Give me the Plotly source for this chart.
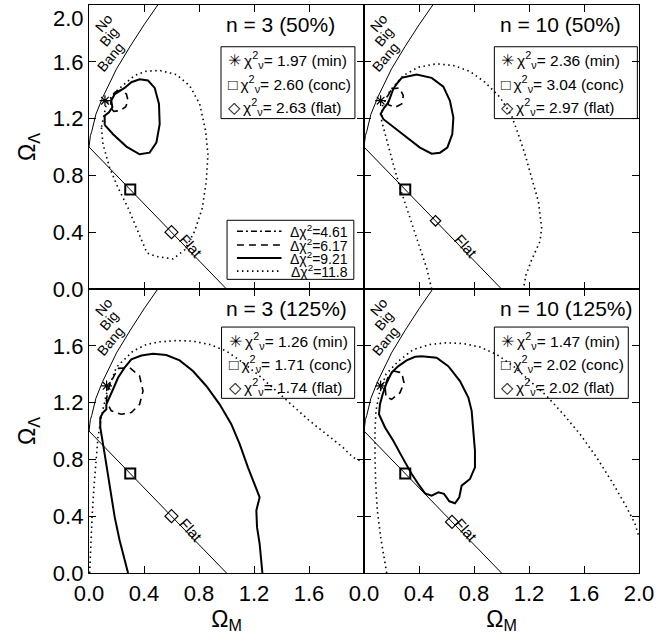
import plotly.graph_objects as go
from plotly.subplots import make_subplots

# ---------------- data ----------------
tick_vals = [0.0, 0.4, 0.8, 1.2, 1.6, 2.0]
tick_text = ["0.0", "0.4", "0.8", "1.2", "1.6", "2.0"]
tick_text_cut = ["0.0", "0.4", "0.8", "1.2", "1.6", ""]

panel_titles = ["n = 3 (50%)", "n = 10 (50%)", "n = 3 (125%)", "n = 10 (125%)"]
chi_min = ["1.97", "2.36", "1.26", "1.47"]
chi_conc = ["2.60", "3.04", "1.71", "2.02"]
chi_flat = ["2.63", "2.97", "1.74", "2.02"]
delta_chi2 = ["4.61", "6.17", "9.21", "11.8"]
nbb_words = ["No", "Big", "Bang"]

# "No Big Bang" boundary and flat-universe line
nbb_om = [0.0, 0.005, 0.01, 0.02, 0.05, 0.1, 0.2, 0.3, 0.4, 0.5]
nbb_ol = [1.0, 1.05, 1.08, 1.11, 1.23, 1.35, 1.55, 1.71, 1.86, 2.0]
flat_om = [0.0, 1.0]
flat_ol = [1.0, 0.0]

# best-fit markers per panel (TL, TR, BL, BR)
min_om = [0.116, 0.121, 0.128, 0.121]
min_ol = [1.326, 1.326, 1.318, 1.318]
conc_om = [0.30, 0.30, 0.30, 0.30]
conc_ol = [0.70, 0.70, 0.70, 0.70]
flatpt_om = [0.60, 0.52, 0.60, 0.64]
flatpt_ol = [0.40, 0.48, 0.40, 0.36]

# ---- top-left: n = 3 (50%)
tl_617_om = [0.187, 0.235, 0.272, 0.284, 0.267, 0.228, 0.179, 0.155, 0.162, 0.187]
tl_617_ol = [1.385, 1.402, 1.373, 1.326, 1.284, 1.256, 1.251, 1.284, 1.338, 1.385]
tl_921_om = [0.114, 0.175, 0.272, 0.368, 0.441, 0.490, 0.514, 0.509, 0.478, 0.429, 0.368,
             0.308, 0.259, 0.223, 0.187, 0.162, 0.170, 0.145, 0.114, 0.114]
tl_921_ol = [1.156, 1.090, 1.003, 0.949, 0.960, 1.031, 1.161, 1.303, 1.416, 1.468, 1.477,
             1.456, 1.416, 1.397, 1.373, 1.326, 1.279, 1.244, 1.220, 1.156]
tl_118_om = [0.090, 0.102, 0.150, 0.211, 0.284, 0.356, 0.422, 0.490, 0.611, 0.696, 0.768,
             0.824, 0.853, 0.865, 0.848, 0.805, 0.732, 0.635, 0.514, 0.417, 0.332, 0.259,
             0.187, 0.126, 0.090]
tl_118_ol = [1.137, 1.019, 0.854, 0.713, 0.571, 0.406, 0.253, 0.229, 0.212, 0.276, 0.406,
             0.571, 0.760, 0.949, 1.114, 1.303, 1.432, 1.510, 1.539, 1.534, 1.503, 1.444,
             1.385, 1.303, 1.137]

# ---- top-right: n = 10 (50%)
tr_617_om = [0.201, 0.257, 0.286, 0.274, 0.225, 0.177, 0.170, 0.201]
tr_617_ol = [1.409, 1.416, 1.362, 1.303, 1.279, 1.298, 1.355, 1.409]
tr_921_om = [0.274, 0.383, 0.492, 0.577, 0.625, 0.650, 0.642, 0.606, 0.553, 0.492, 0.407,
             0.310, 0.213, 0.141, 0.121, 0.145, 0.177, 0.194, 0.213, 0.238, 0.274]
tr_921_ol = [1.487, 1.510, 1.487, 1.425, 1.326, 1.208, 1.090, 0.996, 0.960, 0.953, 0.996,
             1.067, 1.137, 1.196, 1.232, 1.274, 1.314, 1.362, 1.409, 1.444, 1.487]
tr_118_om = [0.492, 0.456, 0.407, 0.359, 0.310, 0.262, 0.213, 0.165, 0.128, 0.135, 0.189,
             0.286, 0.395, 0.528, 0.650, 0.771, 0.880, 0.989, 1.074, 1.122, 1.171, 1.219,
             1.268, 1.292, 1.280, 1.219, 1.178, 1.159]
tr_118_ol = [0.000, 0.146, 0.288, 0.429, 0.571, 0.713, 0.878, 1.043, 1.185, 1.290, 1.397,
             1.503, 1.562, 1.586, 1.574, 1.532, 1.456, 1.350, 1.220, 1.090, 0.949, 0.783,
             0.618, 0.430, 0.335, 0.205, 0.099, 0.000]

# ---- bottom-left: n = 3 (125%)
bl_617_om = [0.211, 0.296, 0.368, 0.393, 0.368, 0.308, 0.235, 0.162, 0.126, 0.138, 0.175, 0.211]
bl_617_ol = [1.441, 1.446, 1.387, 1.282, 1.188, 1.130, 1.118, 1.142, 1.212, 1.294, 1.375, 1.441]
bl_921_om = [0.284, 0.259, 0.223, 0.187, 0.150, 0.114, 0.082, 0.082, 0.102, 0.126, 0.126,
             0.150, 0.175, 0.211, 0.259, 0.308, 0.381, 0.465, 0.562, 0.659, 0.756, 0.853,
             0.950, 1.035, 1.096, 1.156, 1.205, 1.241, 1.217, 1.222, 1.241, 1.261]
bl_921_ol = [0.000, 0.089, 0.229, 0.393, 0.603, 0.837, 1.025, 1.095, 1.130, 1.153, 1.188,
             1.235, 1.294, 1.375, 1.446, 1.504, 1.532, 1.544, 1.535, 1.497, 1.422, 1.317,
             1.188, 1.048, 0.908, 0.744, 0.627, 0.533, 0.440, 0.323, 0.206, 0.000]
bl_118_om = [0.005, 0.012, 0.022, 0.036, 0.053, 0.065, 0.090, 0.126, 0.200, 0.320, 0.417,
             0.514, 0.635, 0.756, 0.878, 0.999, 1.120, 1.241, 1.362, 1.484, 1.605, 1.726,
             1.847, 1.920, 2.000]
bl_118_ol = [0.000, 0.206, 0.393, 0.603, 0.814, 0.954, 1.100, 1.259, 1.450, 1.563, 1.609,
             1.628, 1.637, 1.633, 1.609, 1.563, 1.481, 1.387, 1.282, 1.177, 1.071, 0.978,
             0.884, 0.814, 0.779]

# ---- bottom-right: n = 10 (125%)
br_617_om = [0.213, 0.274, 0.291, 0.262, 0.201, 0.160, 0.153, 0.177, 0.213]
br_617_ol = [1.422, 1.411, 1.340, 1.270, 1.223, 1.240, 1.317, 1.387, 1.422]
br_921_om = [0.419, 0.528, 0.613, 0.698, 0.759, 0.783, 0.795, 0.807, 0.807, 0.771, 0.710,
             0.693, 0.662, 0.621, 0.582, 0.541, 0.492, 0.444, 0.395, 0.347, 0.286, 0.213,
             0.153, 0.109, 0.116, 0.136, 0.165, 0.201, 0.250, 0.310, 0.371, 0.419]
br_921_ol = [1.527, 1.516, 1.457, 1.352, 1.235, 1.142, 1.001, 0.861, 0.744, 0.662, 0.615,
             0.533, 0.491, 0.505, 0.557, 0.568, 0.545, 0.561, 0.627, 0.697, 0.802, 0.931,
             1.025, 1.118, 1.188, 1.259, 1.340, 1.411, 1.457, 1.497, 1.523, 1.527]
br_118_om = [0.165, 0.145, 0.121, 0.097, 0.085, 0.080, 0.080, 0.087, 0.110, 0.160, 0.250,
             0.359, 0.480, 0.601, 0.722, 0.844, 0.965, 1.086, 1.207, 1.328, 1.450, 1.571,
             1.692, 1.813, 1.910, 1.971, 2.000]
br_118_ol = [0.000, 0.112, 0.253, 0.440, 0.627, 0.814, 1.001, 1.142, 1.260, 1.400, 1.492,
             1.574, 1.609, 1.621, 1.616, 1.591, 1.539, 1.457, 1.352, 1.247, 1.118, 0.978,
             0.814, 0.627, 0.463, 0.346, 0.253]

panel_contours = [
    [(tl_617_om, tl_617_ol, "dash"), (tl_921_om, tl_921_ol, "solid"), (tl_118_om, tl_118_ol, "dot")],
    [(tr_617_om, tr_617_ol, "dash"), (tr_921_om, tr_921_ol, "solid"), (tr_118_om, tr_118_ol, "dot")],
    [(bl_617_om, bl_617_ol, "dash"), (bl_921_om, bl_921_ol, "solid"), (bl_118_om, bl_118_ol, "dot")],
    [(br_617_om, br_617_ol, "dash"), (br_921_om, br_921_ol, "solid"), (br_118_om, br_118_ol, "dot")],
]

# ---------------- styling / placement ----------------
FONT = "Liberation Sans, Arial, sans-serif"
DASHES = {"dashdot": "6px,3px,2px,3px", "dash": "7px,5px", "solid": "solid", "dot": "1.5px,3.5px"}
WIDTHS = {"dashdot": 1.5, "dash": 1.6, "solid": 2.0, "dot": 1.6}

fig = make_subplots(rows=2, cols=2, horizontal_spacing=0, vertical_spacing=0)
cells = [(1, 1), (1, 2), (2, 1), (2, 2)]
axref = [("x", "y"), ("x2", "y2"), ("x3", "y3"), ("x4", "y4")]
title_cx = [0.697, 0.716, 0.717, 0.737]
nbb_pos = [(0.108, 1.872), (0.142, 1.775), (0.155, 1.635)]

for i, (r, c) in enumerate(cells):
    fig.add_trace(go.Scatter(x=nbb_om, y=nbb_ol, mode="lines", line=dict(color="black", width=1),
                             showlegend=False, hoverinfo="skip"), row=r, col=c)
    fig.add_trace(go.Scatter(x=flat_om, y=flat_ol, mode="lines", line=dict(color="black", width=1),
                             showlegend=False, hoverinfo="skip"), row=r, col=c)
    for om, ol, sty in panel_contours[i]:
        fig.add_trace(go.Scatter(x=om, y=ol, mode="lines",
                                 line=dict(color="black", width=WIDTHS[sty], dash=DASHES[sty]),
                                 showlegend=False, hoverinfo="skip"), row=r, col=c)
    fig.add_trace(go.Scatter(x=[min_om[i]], y=[min_ol[i]], mode="markers",
                             marker=dict(symbol="asterisk-open", size=9, color="black",
                                         line=dict(color="black", width=1.2)),
                             showlegend=False), row=r, col=c)
    fig.add_trace(go.Scatter(x=[conc_om[i]], y=[conc_ol[i]], mode="markers",
                             marker=dict(symbol="square-open", size=10, color="black",
                                         line=dict(color="black", width=2)),
                             showlegend=False), row=r, col=c)
    fig.add_trace(go.Scatter(x=[flatpt_om[i]], y=[flatpt_ol[i]], mode="markers",
                             marker=dict(symbol="diamond-open", size=10 if i != 1 else 8, color="black",
                                         line=dict(color="black", width=1.2)),
                             showlegend=False), row=r, col=c)

    xr, yr = axref[i]
    for word, (wx, wy) in zip(nbb_words, nbb_pos):
        fig.add_annotation(x=wx, y=wy, xref=xr, yref=yr, text=word, showarrow=False,
                           textangle=-50, font=dict(family=FONT, size=14, color="black"))
    fig.add_annotation(x=0.745, y=0.30, xref=xr, yref=yr, text="Flat", showarrow=False,
                       textangle=48, font=dict(family=FONT, size=15, color="black"))
    fig.add_annotation(x=title_cx[i], y=0.93, xref=xr + " domain", yref=yr + " domain",
                       text=panel_titles[i], showarrow=False, xanchor="center", yanchor="middle",
                       font=dict(family=FONT, size=21, color="black"))

# chi^2 boxes
box_x = [(0.480, 0.967), (0.474, 0.994), (0.482, 0.966), (0.474, 0.961)]
box_y = [(0.600, 0.853), (0.600, 0.853), (0.615, 0.866), (0.615, 0.866)]
for i in range(4):
    xr, yr = axref[i]
    x0, x1 = box_x[i]
    y0, y1 = box_y[i]
    fig.add_shape(type="rect", xref=xr + " domain", yref=yr + " domain", x0=x0, x1=x1, y0=y0, y1=y1,
                  line=dict(color="black", width=1))
    rows = [("\u2733\ufe0e", chi_min[i], "min"), ("□", chi_conc[i], "conc"), ("◇", chi_flat[i], "flat")]
    h = y1 - y0
    for k, (sym, val, lab) in enumerate(rows):
        yy = y1 - h * (0.19 + 0.325 * k)
        fig.add_annotation(x=x0 + 0.018, y=yy, xref=xr + " domain", yref=yr + " domain",
                           text=f"{sym}\u2009χ<sup>2</sup><sub>ν</sub>= {val} ({lab})",
                           showarrow=False, xanchor="left", yanchor="middle",
                           font=dict(family=FONT, size=15.5, color="black"))

# delta chi^2 legend (top-left panel)
fig.add_shape(type="rect", xref="x domain", yref="y domain", x0=0.502, x1=0.963, y0=0.034, y1=0.242,
              line=dict(color="black", width=1))
leg_styles = ["dashdot", "dash", "solid", "dot"]
leg_y = [0.203, 0.155, 0.109, 0.063]
for k in range(4):
    sty = leg_styles[k]
    fig.add_shape(type="line", xref="x domain", yref="y domain", x0=0.538, x1=0.700,
                  y0=leg_y[k], y1=leg_y[k],
                  line=dict(color="black", width=WIDTHS[sty], dash=DASHES[sty]))
    fig.add_annotation(x=0.838, y=leg_y[k], xref="x domain", yref="y domain",
                       text=f"Δχ<sup>2</sup>={delta_chi2[k]}", showarrow=False,
                       xanchor="center", yanchor="middle",
                       font=dict(family=FONT, size=14, color="black"))

axis_common = dict(range=[0, 2], ticks="inside", ticklen=7, tickwidth=1, tickcolor="black",
                   showline=True, linewidth=1.3, linecolor="black", mirror="ticks",
                   showgrid=False, zeroline=False, tickvals=tick_vals,
                   tickfont=dict(family=FONT, size=22, color="black"))
title_font = dict(family=FONT, size=23, color="black")

fig.update_xaxes(**axis_common)
fig.update_yaxes(**axis_common)
fig.update_xaxes(showticklabels=False, row=1, col=1)
fig.update_xaxes(showticklabels=False, row=1, col=2)
fig.update_xaxes(ticktext=tick_text_cut, row=2, col=1,
                 title=dict(text="Ω<sub>M</sub>", font=title_font, standoff=5))
fig.update_xaxes(ticktext=tick_text, row=2, col=2,
                 title=dict(text="Ω<sub>M</sub>", font=title_font, standoff=5))
# the top "2.0" label sits at the page edge; it is drawn below as a text nudged inside the page
fig.update_yaxes(ticktext=tick_text_cut, row=1, col=1,
                 title=dict(text="Ω<sub>Λ</sub>", font=title_font, standoff=10))
fig.update_yaxes(ticktext=tick_text_cut, row=2, col=1,
                 title=dict(text="Ω<sub>Λ</sub>", font=title_font, standoff=10))
fig.update_yaxes(showticklabels=False, row=1, col=2)
fig.update_yaxes(showticklabels=False, row=2, col=2)

fig.add_annotation(x=-0.015, y=1.0, xref="x domain", yref="y domain", text=tick_text[-1],
                   showarrow=False, xanchor="right", yanchor="top", borderpad=0,
                   font=dict(family=FONT, size=22, color="black"))

fig.update_layout(width=658, height=644, margin=dict(l=89, r=19, t=5, b=71),
                  paper_bgcolor="white", plot_bgcolor="white", showlegend=False,
                  font=dict(family=FONT, color="black"))

fig.write_html("out.html")
